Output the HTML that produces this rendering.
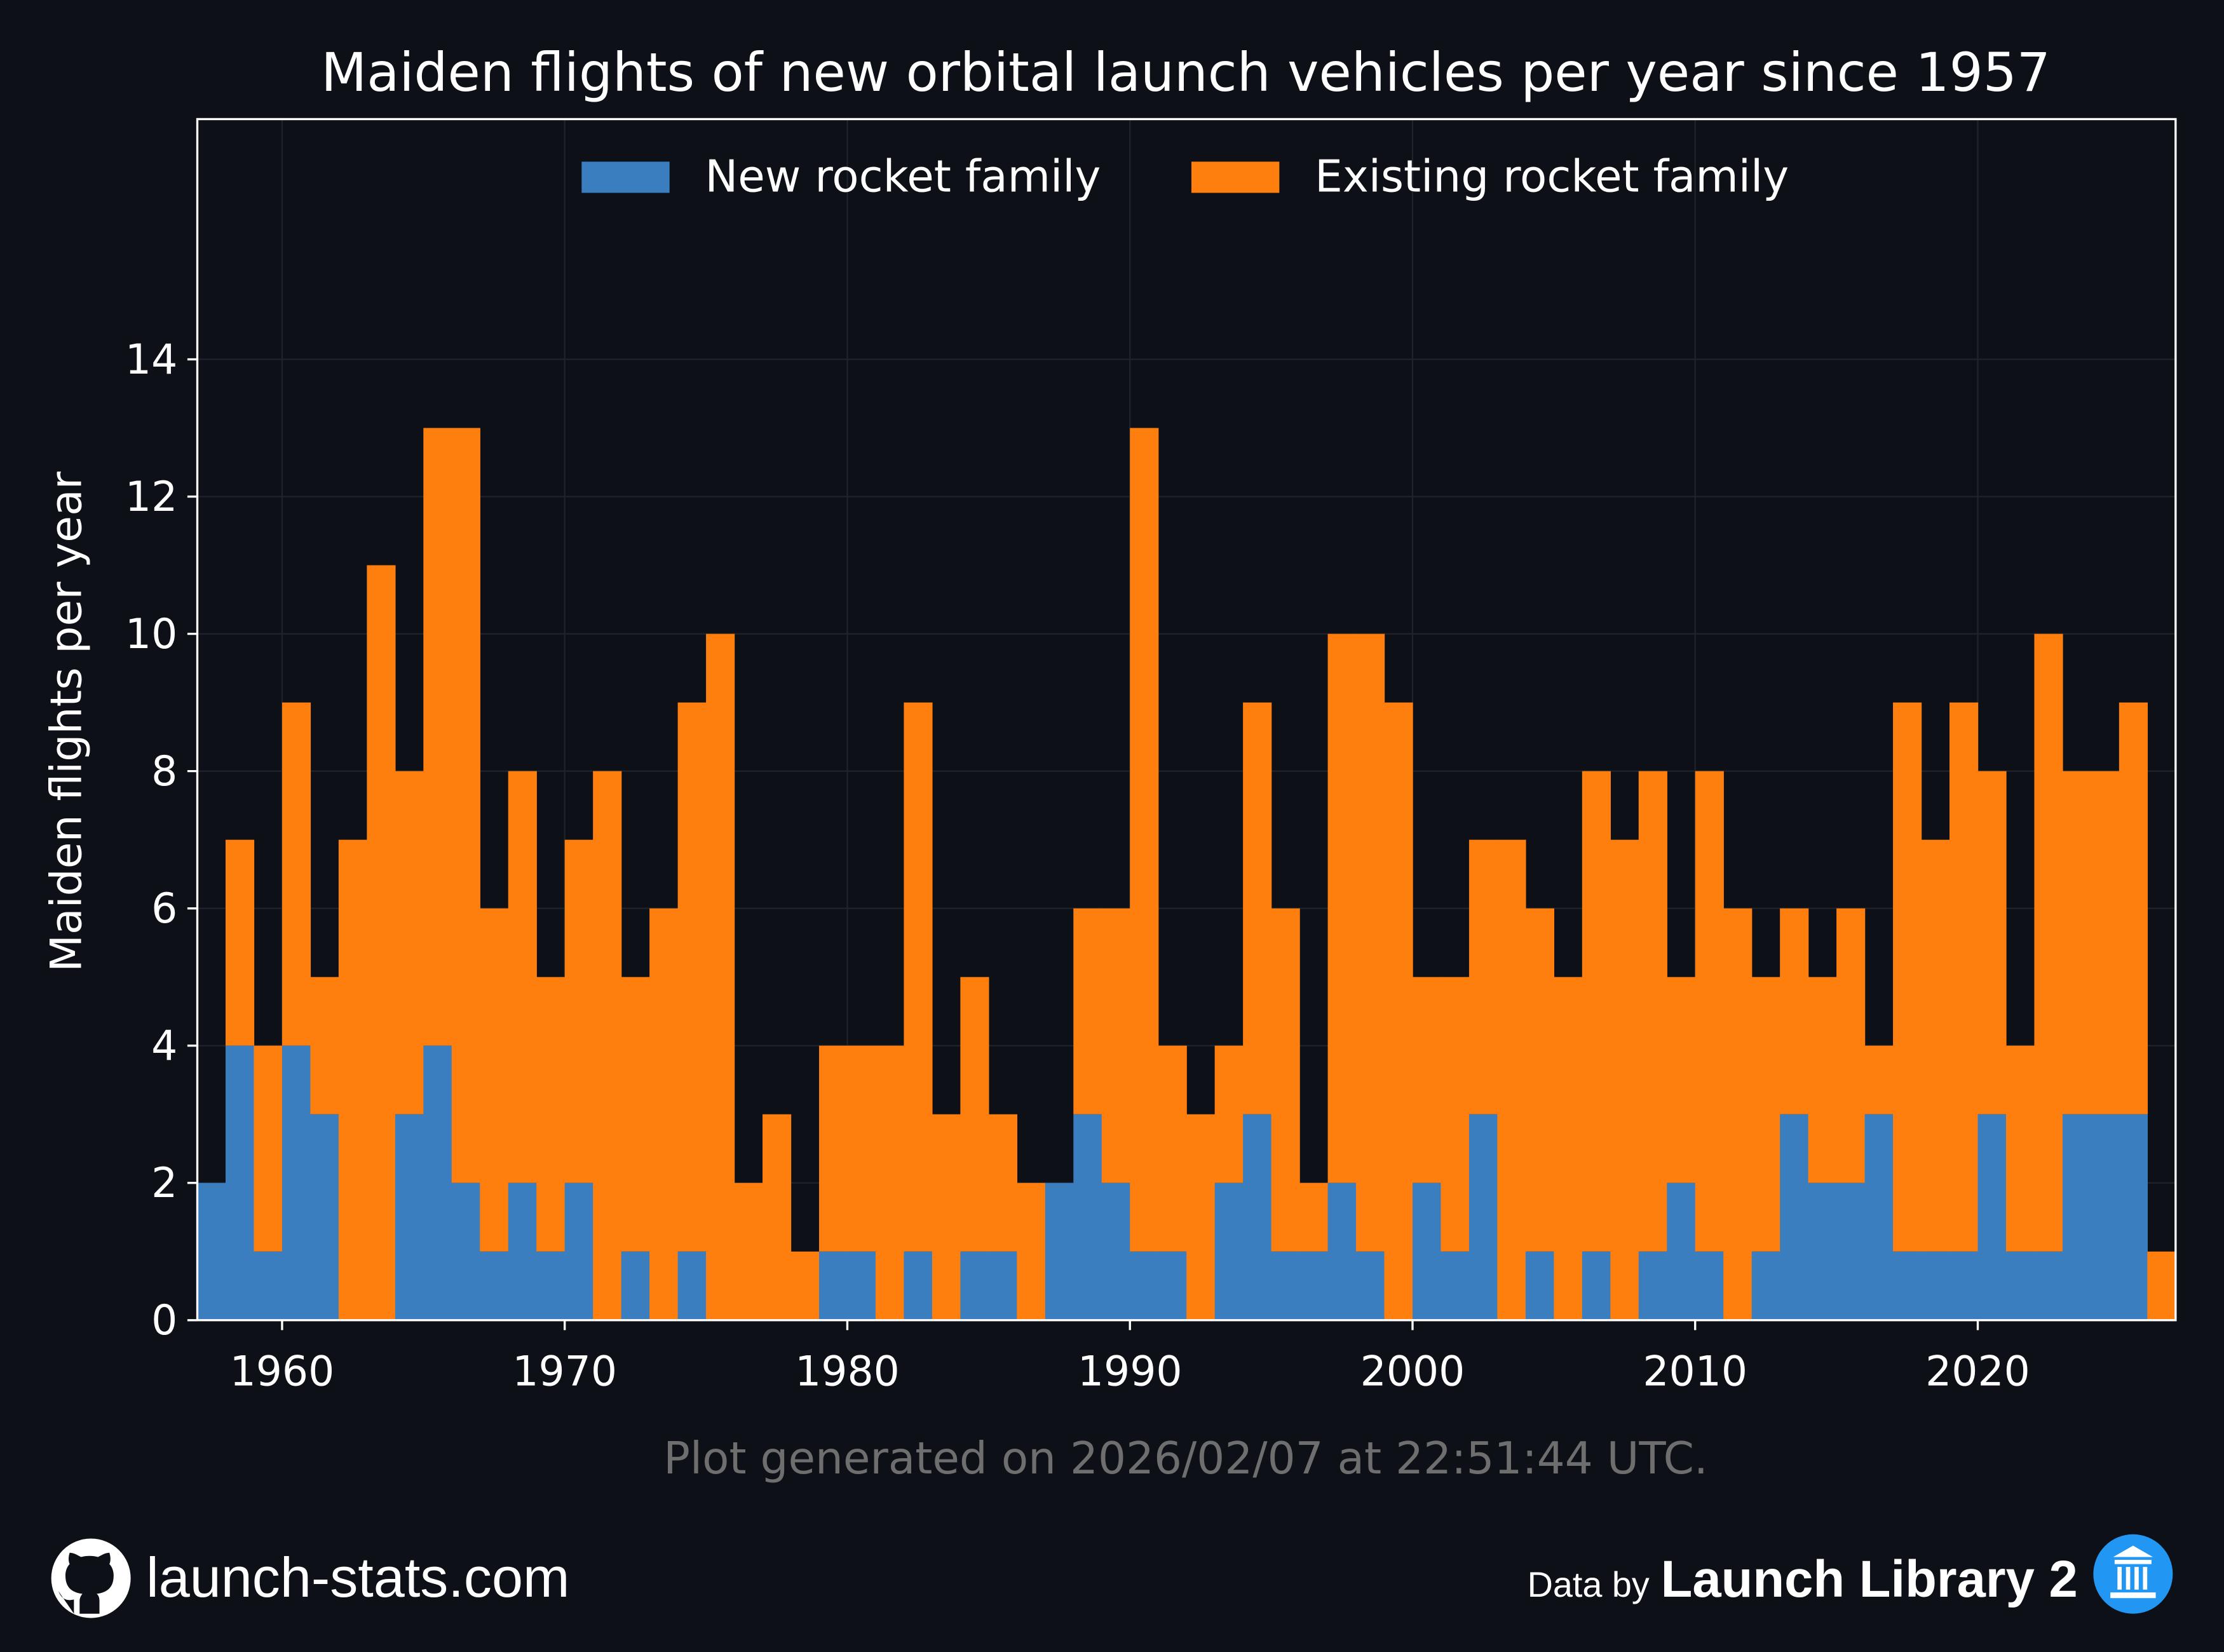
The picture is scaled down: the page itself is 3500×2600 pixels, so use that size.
<!DOCTYPE html>
<html><head><meta charset="utf-8"><style>
html,body{margin:0;padding:0;background:#0d1117;}
svg{display:block;font-family:"DejaVu Sans","Liberation Sans",sans-serif;}
</style></head><body>
<svg id="chart" width="3500" height="2600" viewBox="0 0 1568 1165" xmlns="http://www.w3.org/2000/svg">
<rect width="1568" height="1165" fill="#0d1117"/>
<text x="836" y="64" fill="#ffffff" font-size="37.4" text-anchor="middle">Maiden flights of new orbital launch vehicles per year since 1957</text>
<g id="grid"></g>
<g id="bars"></g>
<rect x="139" y="84" width="1395" height="847" fill="none" stroke="#ffffff" stroke-width="1.5"/>
<g id="xticks"></g>
<g id="yticks"></g>
<text transform="translate(57,509) rotate(-90)" fill="#ffffff" font-size="30.5" text-anchor="middle">Maiden flights per year</text>
<g>
<rect x="410" y="114" width="62" height="22" fill="#3a7ebf"/>
<text x="497" y="135" fill="#ffffff" font-size="31">New rocket family</text>
<rect x="840" y="114" width="62" height="22" fill="#ff7f0e"/>
<text x="927" y="135" fill="#ffffff" font-size="31">Existing rocket family</text>
</g>
<text x="836" y="1039" fill="#6e6e6e" font-size="31" text-anchor="middle">Plot generated on 2026/02/07 at 22:51:44 UTC.</text>
<g>
<circle cx="64" cy="1113" r="28" fill="#ffffff"/>
<path d="M52 1138 v-10 c-8 2-10-4-11-6 M70 1138 v-9 c0-4-2-5-2-5 c7-1 12-4 12-13 c0-3-1-6-3-8 c1-2 1-5 0-8 c-3 0-6 2-8 3 c-4-1-8-1-12 0 c-2-1-5-3-8-3 c-1 3-1 6 0 8 c-2 2-3 5-3 8 c0 9 5 12 12 13 c-1 1-2 3-2 5 v9 z" fill="#0d1117"/>
</g>
<text x="103" y="1126" fill="#ffffff" font-size="39.5" font-family="Liberation Sans, sans-serif">launch-stats.com</text>
<text x="1163" y="1126" fill="#ffffff" font-size="25" text-anchor="end" font-family="Liberation Sans, sans-serif">Data by</text>
<text x="1465" y="1126" fill="#ffffff" font-size="36.5" font-weight="bold" text-anchor="end" font-family="Liberation Sans, sans-serif">Launch Library 2</text>
<g>
<circle cx="1504" cy="1110" r="28" fill="#2196f3"/>
<polygon points="1490,1098 1504,1090 1518,1098" fill="#ffffff"/>
<rect x="1491" y="1100" width="26" height="3" fill="#ffffff"/>
<rect x="1493" y="1105" width="3" height="16" fill="#ffffff"/><rect x="1499" y="1105" width="3" height="16" fill="#ffffff"/><rect x="1505" y="1105" width="3" height="16" fill="#ffffff"/><rect x="1511" y="1105" width="3" height="16" fill="#ffffff"/>
<rect x="1488" y="1123" width="32" height="4" fill="#ffffff"/>
</g>
</svg>
<script>
const years = [];
for (let y = 1957; y <= 2026; y++) years.push(y);
const newFamily = [2,4,1,4,3,0,0,3,4,2,1,2,1,2,0,1,0,1,0,0,0,0,1,1,0,1,0,1,1,0,2,3,2,1,1,0,2,3,1,1,2,1,0,2,1,3,0,1,0,1,0,1,2,1,0,1,3,2,2,3,1,1,1,3,1,1,3,3,3,0];
const totals = [2,7,4,9,5,7,11,8,13,13,6,8,5,7,8,5,6,9,10,2,3,1,4,4,4,9,3,5,3,2,2,6,6,13,4,3,4,9,6,2,10,10,9,5,5,7,7,6,5,8,7,8,5,8,6,5,6,5,6,4,9,7,9,8,4,10,8,8,9,1];
const yTickValues = [0,2,4,6,8,10,12,14];
const xTickValues = [1960,1970,1980,1990,2000,2010,2020];

const NS = "http://www.w3.org/2000/svg";
const X0 = 139, X1 = 1534, Y0 = 931, Y1 = 84;
const xMin = 1957, xMax = 2027, yMin = 0, yMax = 17.5;
const xs = v => X0 + (v - xMin) / (xMax - xMin) * (X1 - X0);
const ys = v => Y0 - (v - yMin) / (yMax - yMin) * (Y0 - Y1);
function mk(tag, attrs, parent) {
  const e = document.createElementNS(NS, tag);
  for (const k in attrs) e.setAttribute(k, attrs[k]);
  parent.appendChild(e);
  return e;
}
const grid = document.getElementById('grid');
const bars = document.getElementById('bars');
const xt = document.getElementById('xticks');
const yt = document.getElementById('yticks');

yTickValues.forEach(v => {
  const l = mk('line', {x1: X0, x2: X1, y1: ys(v), y2: ys(v), stroke: '#1f242c', 'stroke-width': 1}, grid);
  
  
  const t = mk('line', {x1: X0 - 7, x2: X0, y1: ys(v), y2: ys(v), stroke: '#ffffff', 'stroke-width': 1.5}, yt);
  
  
  const lab = mk('text', {x: X0 - 14, y: ys(v) + 10, fill: '#ffffff', 'font-size': 29, 'text-anchor': 'end'}, yt);
  lab.textContent = v;
  
  
});
xTickValues.forEach(v => {
  const l = mk('line', {x1: xs(v), x2: xs(v), y1: Y1, y2: Y0, stroke: '#1f242c', 'stroke-width': 1}, grid);
  
  
  const t = mk('line', {x1: xs(v), x2: xs(v), y1: Y0, y2: Y0 + 7, stroke: '#ffffff', 'stroke-width': 1.5}, xt);
  
  
  const lab = mk('text', {x: xs(v), y: Y0 + 46, fill: '#ffffff', 'font-size': 29, 'text-anchor': 'middle'}, xt);
  lab.textContent = v;
  
  
});
years.forEach((yr, i) => {
  const x = xs(yr), w = xs(yr + 1) - xs(yr) + 0.3;
  const b = newFamily[i], t = totals[i];
  if (t > b) {
    const r = mk('rect', {x: x, y: ys(t), width: w, height: ys(b) - ys(t), fill: '#ff7f0e'}, bars);
    
    
  }
  if (b > 0) {
    const r = mk('rect', {x: x, y: ys(b), width: w, height: ys(0) - ys(b), fill: '#3a7ebf'}, bars);
    
    
  }
});
</script>
</body></html>
